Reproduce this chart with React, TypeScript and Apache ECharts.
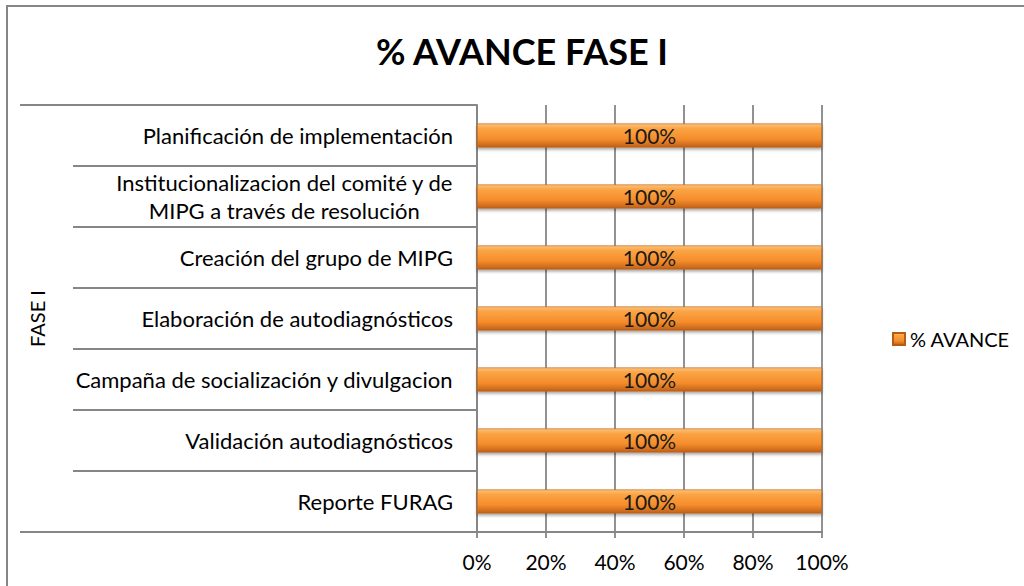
import React, { useEffect, useRef } from "react";
import * as echarts from "echarts";

const categories = [
  "Planificación de implementación",
  "Institucionalizacion del comité y de\nMIPG a través de resolución",
  "Creación del grupo de MIPG",
  "Elaboración de autodiagnósticos",
  "Campaña de socialización y divulgacion",
  "Validación autodiagnósticos",
  "Reporte FURAG",
];
const avance = [100, 100, 100, 100, 100, 100, 100];
const groupLabels = ["FASE I"];
const seriesName = "% AVANCE";
const titleText = "% AVANCE FASE I";
const xMin = 0;
const xMax = 100;
const xStep = 20;

const FONT = "Lato, 'Open Sans', sans-serif";
const LINE = "#868686";

export default function App() {
  const ref = useRef<HTMLDivElement>(null);
  useEffect(() => {
    if (!ref.current) return;
    const chart = echarts.init(ref.current, null, { renderer: "svg" });
    const barColor = new echarts.graphic.LinearGradient(0, 0, 0, 1, [
      { offset: 0, color: "#fcc27c" },
      { offset: 0.2, color: "#fba445" },
      { offset: 0.65, color: "#f58d2b" },
      { offset: 1, color: "#c0601a" },
    ]);
    chart.setOption({
      animation: false,
      backgroundColor: "#ffffff",
      textStyle: { fontFamily: FONT },
      title: {
        text: titleText,
        left: 371,
        top: 28,
        textStyle: { fontSize: 36, fontWeight: "bold", color: "#000", fontFamily: FONT },
      },
      legend: {
        data: [seriesName],
        orient: "vertical",
        left: 887,
        top: 324,
        icon: "rect",
        itemWidth: 12,
        itemHeight: 12,
        itemGap: 6,
        textStyle: { fontSize: 20, color: "#000", fontFamily: FONT },
      },
      grid: { left: 477, right: 202, top: 105, bottom: 54, containLabel: false },
      xAxis: {
        type: "value",
        min: xMin,
        max: xMax,
        interval: xStep,
        axisLine: { show: true, lineStyle: { color: LINE, width: 1.8 } },
        axisTick: { show: true, length: 6, lineStyle: { color: LINE, width: 1.8 } },
        splitLine: { show: true, lineStyle: { color: LINE, width: 1.8 } },
        axisLabel: {
          formatter: "{value}%",
          margin: 19,
          fontSize: 21,
          color: "#000",
          fontFamily: FONT,
        },
      },
      yAxis: [
        {
          type: "category",
          data: categories,
          inverse: true,
          axisLine: { show: true, lineStyle: { color: LINE, width: 1.8 } },
          axisTick: { show: true, length: 404, lineStyle: { color: LINE, width: 1.8 } },
          splitLine: { show: false },
          axisLabel: {
            margin: 24,
            fontSize: 22,
            color: "#000",
            fontFamily: FONT,
            lineHeight: 28,
            formatter: (v: string) =>
              v
                .split("\n")
                .map((s) => "{c|" + s + "}")
                .join("\n"),
            rich: {
              c: { align: "center", fontSize: 22, color: "#000", fontFamily: FONT, lineHeight: 28 },
            },
          },
        },
        {
          type: "category",
          data: groupLabels,
          position: "left",
          offset: 404,
          axisLine: { show: false },
          axisTick: { show: true, length: 53, lineStyle: { color: LINE, width: 1.8 } },
          axisLabel: { show: false },
          name: groupLabels[0],
          nameLocation: "middle",
          nameRotate: 90,
          nameGap: 26,
          nameTextStyle: { fontSize: 20, color: "#000", fontFamily: FONT },
        },
      ],
      series: [
        {
          name: seriesName,
          type: "bar",
          yAxisIndex: 0,
          data: avance,
          barWidth: 24,
          itemStyle: {
            color: barColor,
            borderColor: "#b85c14",
            borderWidth: 0.6,
            shadowColor: "rgba(0,0,0,0.35)",
            shadowBlur: 3,
            shadowOffsetY: 2,
          },
          label: {
            show: true,
            position: "inside",
            formatter: "{c}%",
            fontSize: 21,
            color: "#1a1a1a",
            fontFamily: FONT,
          },
        },
      ],
      graphic: [
        {
          type: "rect",
          shape: { x: 7, y: 6, width: 1200, height: 800 },
          style: { fill: "none", stroke: LINE, lineWidth: 2 },
          silent: true,
        },
      ],
    });
    return () => chart.dispose();
  }, []);
  return (
    <div
      ref={ref}
      style={{ position: "absolute", left: 0, top: 0, width: 1024, height: 586 }}
    />
  );
}
